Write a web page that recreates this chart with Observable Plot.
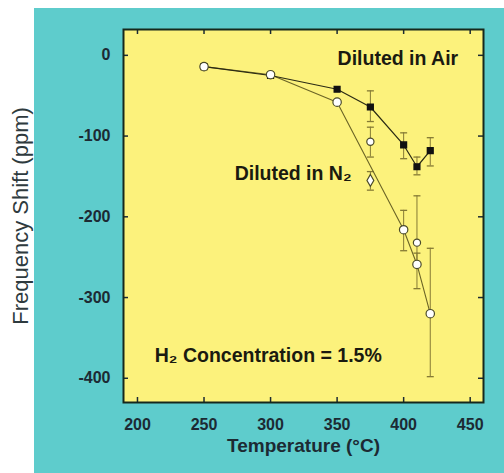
<!DOCTYPE html>
<html><head><meta charset="utf-8">
<script src="https://cdn.jsdelivr.net/npm/d3@7"></script>
<script src="https://cdn.jsdelivr.net/npm/@observablehq/plot@0.6"></script>
<style>
html,body{margin:0;padding:0;background:#fff;}
#wrap{position:absolute;left:34px;top:8px;width:470px;height:465px;background:#5ecccc;}
svg{display:block;}
</style></head><body><div id="wrap"></div>
<script>
// Tick values
const xTicks = [200, 250, 300, 350, 400, 450];
const yTicks = [0, -100, -200, -300, -400];

// Diluted in Air (filled markers)
const airTemp  = [250, 300, 350, 375, 400, 410, 420];
const airShift = [-14, -25, -42, -64, -111, -138, -118];
const airLo    = [null, null, null, -82, -128, -148, -137];
const airHi    = [null, null, null, -44, -96, -126, -102];

// Diluted in N2 (open markers, connected)
const n2Temp  = [250, 300, 350, 400, 410, 420];
const n2Shift = [-14, -24, -58, -216, -259, -320];
const n2Lo    = [null, null, null, -242, -289, -398];
const n2Hi    = [null, null, null, -192, -245, -239];

// Additional N2 measurements (open, not connected)
const n2xTemp  = [375, 375, 410];
const n2xShift = [-107, -155, -232];
const n2xLo    = [-126, -167, -258];
const n2xHi    = [-89, -144, -174];
const n2xSym   = ["circle", "diamond", "circle"];

// Annotations
const notes = [
  {x: 441, y: -12, text: "Diluted in Air", anchor: "end"},
  {x: 273, y: -155, text: "Diluted in N₂", anchor: "start"},
  {x: 213, y: -380, text: "H₂ Concentration = 1.5%", anchor: "start"}
];

const air = airTemp.map((t, i) => ({t, v: airShift[i], lo: airLo[i], hi: airHi[i]}));
const n2 = n2Temp.map((t, i) => ({t, v: n2Shift[i], lo: n2Lo[i], hi: n2Hi[i]}));
const n2x = n2xTemp.map((t, i) => ({t, v: n2xShift[i], lo: n2xLo[i], hi: n2xHi[i], s: n2xSym[i]}));
const errs = [...air, ...n2, ...n2x].filter(d => d.lo != null);
const caps = errs.flatMap(d => [{t: d.t, v: d.lo}, {t: d.t, v: d.hi}]);

const hline = {draw(ctx, size) { const r = Math.sqrt(size / Math.PI); ctx.moveTo(-r, 0); ctx.lineTo(r, 0); }};

const W = 470, H = 465, mL = 89, mR = 21, mT = 21, mB = 71;
const ink = "#1c2a33";
const errC = "#857a35";

const chart = Plot.plot({
  width: W, height: H,
  marginLeft: mL, marginRight: mR, marginTop: mT, marginBottom: mB,
  style: {fontFamily: "'Liberation Sans', Arial, sans-serif", background: "transparent", overflow: "visible"},
  x: {domain: [189.5, 460], ticks: xTicks},
  y: {domain: [-430, 32], ticks: yTicks},
  marks: [
    Plot.frame({fill: "#fcf27c", stroke: null}),
    // inward ticks
    Plot.ruleX(xTicks, {x: d => d, insetTop: H - mT - mB - 5, stroke: ink, strokeWidth: 1.5}),
    Plot.ruleX(xTicks, {x: d => d, insetBottom: H - mT - mB - 5, stroke: ink, strokeWidth: 1.5}),
    Plot.ruleY(yTicks, {y: d => d, insetRight: W - mL - mR - 5, stroke: ink, strokeWidth: 1.5}),
    Plot.ruleY(yTicks, {y: d => d, insetLeft: W - mL - mR - 5, stroke: ink, strokeWidth: 1.5}),
    Plot.axisX({ticks: xTicks, tickSize: 0, tickPadding: 16, fontSize: 16, fontWeight: "bold", fill: ink,
      tickFormat: d => String(d), label: null}),
    Plot.axisY({ticks: yTicks, tickSize: 0, tickPadding: 13, fontSize: 16, fontWeight: "bold", fill: ink,
      tickFormat: d => String(d), label: null}),
    Plot.text(["Frequency Shift (ppm)"], {frameAnchor: "left", textAnchor: "middle", rotate: -90, dx: -103, fontSize: 22, fill: "#2e3a3e", text: d => d}),
    Plot.text(["Temperature (°C)"], {frameAnchor: "bottom", dy: 49, fontSize: 19, fontWeight: "bold", fill: ink, text: d => d}),
    // error bars
    Plot.ruleX(errs, {x: "t", y1: "lo", y2: "hi", stroke: errC, strokeWidth: 1}),
    Plot.dot(caps, {x: "t", y: "v", symbol: hline, r: 3.5, stroke: errC, strokeWidth: 1.3}),
    // lines
    Plot.line(n2, {x: "t", y: "v", stroke: "#6b6426", strokeWidth: 1.1}),
    Plot.line(air, {x: "t", y: "v", stroke: "#2a2a14", strokeWidth: 1.2}),
    // markers
    Plot.dot(air, {x: "t", y: "v", symbol: "square", r: 3.2, fill: "#111", stroke: "#111"}),
    Plot.dot(n2, {x: "t", y: "v", symbol: "circle", r: 4.2, fill: "#fff", stroke: "#4a4a2a", strokeWidth: 1.2}),
    Plot.dot(n2x, {x: "t", y: "v", symbol: "s", r: 3.6, fill: "#fff", stroke: "#4a4a2a", strokeWidth: 1.2}),
    // annotations
    Plot.text(notes.filter(d => d.anchor === "end"), {x: "x", y: "y", text: "text", textAnchor: "end", lineAnchor: "bottom", fontSize: 19.5, fontWeight: "bold", fill: "#1a1a10"}),
    Plot.text(notes.filter(d => d.anchor === "start"), {x: "x", y: "y", text: "text", textAnchor: "start", lineAnchor: "bottom", fontSize: 19.5, fontWeight: "bold", fill: "#1a1a10"}),
    Plot.frame({stroke: "#16281c", strokeWidth: 2})
  ]
});
document.getElementById("wrap").appendChild(chart);
</script></body></html>
